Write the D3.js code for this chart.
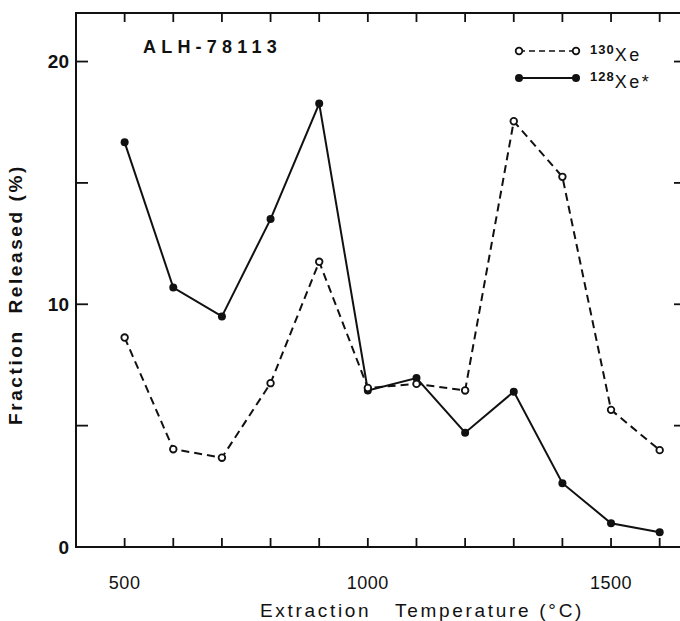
<!DOCTYPE html>
<html>
<head>
<meta charset="utf-8">
<script src="https://cdn.jsdelivr.net/npm/d3@7"></script>
<style>
  body { margin: 0; background: #fff; }
  text { font-family: "Liberation Sans", Arial, Helvetica, sans-serif; fill: #111; }
</style>
</head>
<body>
<div id="chart"></div>
<script>
// extraction steps (deg C)
var temps = [500, 600, 700, 800, 900, 1000, 1100, 1200, 1300, 1400, 1500, 1600];
// fraction released (%) per step
var xe130 = [8.63, 4.03, 3.68, 6.75, 11.75, 6.55, 6.72, 6.45, 17.54, 15.25, 5.65, 3.99];
var xe128 = [16.67, 10.69, 9.50, 13.51, 18.27, 6.45, 6.96, 4.71, 6.40, 2.63, 0.98, 0.61];

var xTickLabels = [500, 1000, 1500];
var xMinorTicks = [500, 600, 700, 800, 900, 1000, 1100, 1200, 1300, 1400, 1500, 1600];
var yTickLabels = [0, 10, 20];
var yMinorTicks = [5, 10, 15, 20];

var W = 680, H = 621;
var margin = {top: 13, right: -4, bottom: 74, left: 76};
var width = W - margin.left - margin.right,
    height = H - margin.top - margin.bottom;

var svg = d3.select("#chart")
  .append("svg")
    .attr("width", W)
    .attr("height", H)
  .append("g")
    .attr("transform", "translate(" + margin.left + "," + margin.top + ")");

var x = d3.scaleLinear()
  .domain([400, 1650])
  .range([0, width]);

var y = d3.scaleLinear()
  .domain([0, 22])
  .range([height, 0]);

// frame
var frame = svg.append("g").attr("stroke", "#111").attr("fill", "none");
frame.append("path")
  .attr("stroke-width", 2)
  .attr("d", "M" + width + ",0H0V" + height + "H" + width + "V0");

// x ticks, bottom (pointing up) and top (pointing down)
frame.selectAll("line.xb")
  .data(xMinorTicks)
  .enter()
  .append("line")
    .attr("class", "xb")
    .attr("x1", d => x(d)).attr("x2", d => x(d))
    .attr("y1", height).attr("y2", height - 9)
    .attr("stroke-width", 1.8);

frame.selectAll("line.xt")
  .data(xMinorTicks)
  .enter()
  .append("line")
    .attr("class", "xt")
    .attr("x1", d => x(d)).attr("x2", d => x(d))
    .attr("y1", 0).attr("y2", 9)
    .attr("stroke-width", 1.8);

// y ticks, left and right, pointing inward
frame.selectAll("line.yl")
  .data(yMinorTicks)
  .enter()
  .append("line")
    .attr("class", "yl")
    .attr("x1", 0).attr("x2", 12)
    .attr("y1", d => y(d)).attr("y2", d => y(d))
    .attr("stroke-width", 1.8);

frame.selectAll("line.yr")
  .data(yMinorTicks)
  .enter()
  .append("line")
    .attr("class", "yr")
    .attr("x1", width).attr("x2", width - 10)
    .attr("y1", d => y(d)).attr("y2", d => y(d))
    .attr("stroke-width", 1.8);

// tick labels
svg.append("g")
  .selectAll("text")
  .data(xTickLabels)
  .enter()
  .append("text")
    .attr("x", d => x(d))
    .attr("y", height + 42)
    .attr("text-anchor", "middle")
    .style("font-size", "18px")
    .style("letter-spacing", "0.5px")
    .text(d => d);

svg.append("g")
  .selectAll("text")
  .data(yTickLabels)
  .enter()
  .append("text")
    .attr("x", -7)
    .attr("y", d => y(d))
    .attr("dy", "0.36em")
    .attr("text-anchor", "end")
    .style("font-size", "19px")
    .style("font-weight", "bold")
    .text(d => d);

// axis titles
svg.append("text")
  .attr("x", 346)
  .attr("y", height + 70)
  .attr("text-anchor", "middle")
  .style("font-size", "19px")
  .style("letter-spacing", "2.7px")
  .style("white-space", "pre")
  .text("Extraction   Temperature (\u00B0C)");

svg.append("text")
  .attr("transform", "translate(-54," + y(10.4) + ") rotate(-90)")
  .attr("text-anchor", "middle")
  .style("font-size", "19px")
  .style("font-weight", "bold")
  .style("letter-spacing", "2.6px")
  .style("white-space", "pre")
  .text("Fraction  Released (%)");

// sample name
svg.append("text")
  .attr("x", 67)
  .attr("y", 40)
  .style("font-size", "18px")
  .style("font-weight", "bold")
  .style("letter-spacing", "5.2px")
  .text("ALH-78113");

// series
var line = d3.line()
  .x(d => x(d[0]))
  .y(d => y(d[1]));

var s130 = temps.map((t, i) => [t, xe130[i]]);
var s128 = temps.map((t, i) => [t, xe128[i]]);

svg.append("path")
  .datum(s130)
  .attr("d", line)
  .attr("fill", "none")
  .attr("stroke", "#111")
  .attr("stroke-width", 2)
  .attr("stroke-dasharray", "8,5");

svg.append("path")
  .datum(s128)
  .attr("d", line)
  .attr("fill", "none")
  .attr("stroke", "#111")
  .attr("stroke-width", 2);

svg.append("g")
  .selectAll("circle")
  .data(s128)
  .enter()
  .append("circle")
    .attr("cx", d => x(d[0]))
    .attr("cy", d => y(d[1]))
    .attr("r", 4)
    .style("fill", "#111");

svg.append("g")
  .selectAll("circle")
  .data(s130)
  .enter()
  .append("circle")
    .attr("cx", d => x(d[0]))
    .attr("cy", d => y(d[1]))
    .attr("r", 3.3)
    .style("fill", "#fff")
    .style("stroke", "#111")
    .style("stroke-width", 1.8);

// legend
var legend = svg.append("g").attr("transform", "translate(443,38)");

legend.append("line")
  .attr("x1", 0).attr("x2", 57).attr("y1", 0).attr("y2", 0)
  .attr("stroke", "#111").attr("stroke-width", 1.6).attr("stroke-dasharray", "6,4");
legend.selectAll("circle.o")
  .data([0, 57])
  .enter()
  .append("circle")
    .attr("cx", d => d).attr("cy", 0).attr("r", 3.3)
    .style("fill", "#fff").style("stroke", "#111").style("stroke-width", 1.8);
var t1 = legend.append("text").attr("x", 71).attr("y", 10);
t1.append("tspan").attr("dy", -7).style("font-size", "13px").style("font-weight", "bold").style("letter-spacing", "1px").text("130");
t1.append("tspan").attr("dy", 7).style("font-size", "18px").style("letter-spacing", "2.5px").text("Xe");

legend.append("line")
  .attr("x1", 0).attr("x2", 57).attr("y1", 27).attr("y2", 27)
  .attr("stroke", "#111").attr("stroke-width", 2);
legend.selectAll("circle.f")
  .data([0, 57])
  .enter()
  .append("circle")
    .attr("cx", d => d).attr("cy", 27).attr("r", 4)
    .style("fill", "#111");
var t2 = legend.append("text").attr("x", 71).attr("y", 37);
t2.append("tspan").attr("dy", -7).style("font-size", "13px").style("font-weight", "bold").style("letter-spacing", "1px").text("128");
t2.append("tspan").attr("dy", 7).style("font-size", "18px").style("letter-spacing", "2.5px").text("Xe*");
</script>
</body>
</html>
